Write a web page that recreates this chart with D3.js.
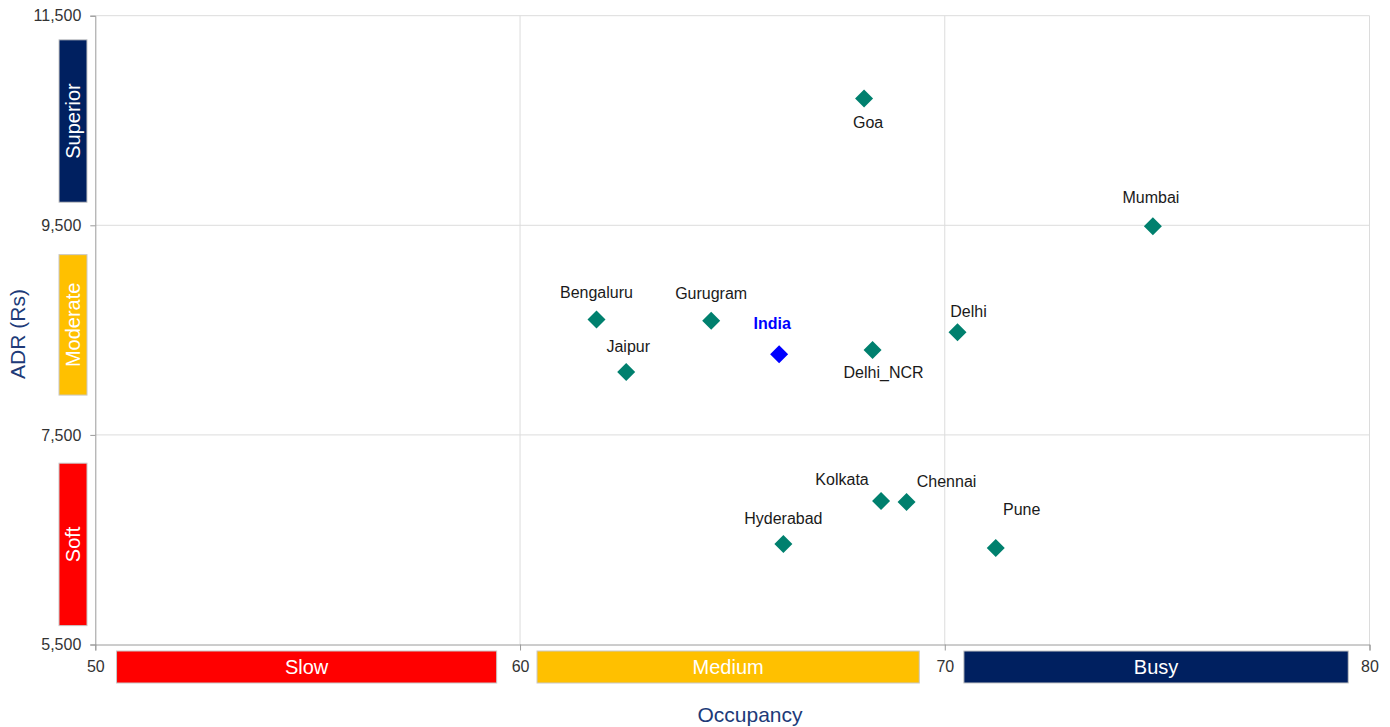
<!DOCTYPE html>
<html>
<head>
<meta charset="utf-8">
<script src="https://cdn.jsdelivr.net/npm/d3@7"></script>
<style>
  html, body { margin: 0; padding: 0; background: #fff; }
  svg { display: block; font-family: "Liberation Sans", Arial, sans-serif; }
</style>
</head>
<body>
<svg id="chart" width="1390" height="727"></svg>
<script>
// Hotel markets: occupancy (%) vs average daily rate (Rs)
const cities    = ["Goa", "Mumbai", "Bengaluru", "Gurugram", "India", "Jaipur", "Delhi", "Delhi_NCR", "Kolkata", "Chennai", "Hyderabad", "Pune"];
const occupancy = [68.1, 74.9, 61.8, 64.5, 66.1, 62.5, 70.3, 68.3, 68.5, 69.1, 66.2, 71.2];
const adr       = [10710, 9490, 8600, 8590, 8270, 8100, 8480, 8310, 6870, 6860, 6460, 6420];

const xTicks = [50, 60, 70, 80];
const yTicks = [5500, 7500, 9500, 11500];

// Occupancy bands along the bottom
const occBandNames = ["Slow", "Medium", "Busy"];
const occBandFrom  = [50.5, 60.4, 70.45];
const occBandTo    = [59.45, 69.4, 79.5];

// Rate bands along the left
const adrBandNames = ["Superior", "Moderate", "Soft"];
const adrBandFrom  = [9720, 7880, 5680];
const adrBandTo    = [11270, 9220, 7230];

const bandColors = { Slow: "#FF0000", Medium: "#FFC000", Busy: "#002060",
                     Superior: "#002060", Moderate: "#FFC000", Soft: "#FF0000" };

// Label placement around each marker [dx, dy]
const labelOffset = {
  Goa: [4, 30], Mumbai: [-2, -23], Bengaluru: [0, -22], Gurugram: [0, -22],
  India: [-7, -25], Jaipur: [2, -20], Delhi: [11, -15], Delhi_NCR: [11, 28],
  Kolkata: [-39, -16], Chennai: [40, -15], Hyderabad: [0, -20], Pune: [26, -33]
};

const svg = d3.select("#chart");
const plotLeft = 95.3, plotRight = 1369.5, plotTop = 15.7, plotBottom = 644.5;

const x = d3.scaleLinear().domain([50, 80]).range([plotLeft, plotRight]);
const y = d3.scaleLinear().domain([5500, 11500]).range([plotBottom, plotTop]);

// grid
const grid = svg.append("g");
grid.selectAll("line.v").data(xTicks.slice(1)).join("line")
  .attr("class", "v")
  .attr("x1", d => x(d)).attr("x2", d => x(d))
  .attr("y1", plotTop).attr("y2", plotBottom)
  .attr("stroke", "#dcdcdc").attr("stroke-width", 1);
grid.selectAll("line.h").data(yTicks.slice(1)).join("line")
  .attr("class", "h")
  .attr("x1", plotLeft).attr("x2", plotRight)
  .attr("y1", d => y(d)).attr("y2", d => y(d))
  .attr("stroke", "#dcdcdc").attr("stroke-width", 1);

// axes
const yAxis = svg.append("g").attr("transform", `translate(${plotLeft},0)`)
  .call(d3.axisLeft(y).tickValues(yTicks).tickFormat(d3.format(",")).tickSize(5).tickPadding(9));
const xAxis = svg.append("g").attr("transform", `translate(0,${plotBottom})`)
  .call(d3.axisBottom(x).tickValues(xTicks).tickSize(6).tickPadding(8));
[xAxis, yAxis].forEach(g => {
  g.select(".domain").attr("stroke", "#9a9a9a");
  g.selectAll(".tick line").attr("stroke", "#9a9a9a");
  g.selectAll(".tick text").attr("fill", "#333").style("font-size", "16px")
    .style("font-family", "Liberation Sans, Arial, sans-serif");
});
xAxis.selectAll(".tick text").attr("dy", "0.85em");

// occupancy bands
const ob = svg.append("g");
occBandNames.forEach((n, i) => {
  const x0 = x(occBandFrom[i]), x1 = x(occBandTo[i]);
  ob.append("rect").attr("x", x0).attr("y", 651).attr("width", x1 - x0).attr("height", 32)
    .attr("fill", bandColors[n]).attr("stroke", "#c8c8c8").attr("stroke-width", 1);
  ob.append("text").attr("x", (x0 + x1) / 2).attr("y", 667).attr("dy", "0.35em")
    .attr("text-anchor", "middle").attr("fill", "#fff").style("font-size", "20px").text(n);
});

// rate bands
const ab = svg.append("g");
adrBandNames.forEach((n, i) => {
  const y0 = y(adrBandTo[i]), y1 = y(adrBandFrom[i]);
  ab.append("rect").attr("x", 59).attr("y", y0).attr("width", 28).attr("height", y1 - y0)
    .attr("fill", bandColors[n]).attr("stroke", "#c8c8c8").attr("stroke-width", 1);
  const cy = (y0 + y1) / 2;
  ab.append("text").attr("transform", `translate(73,${cy}) rotate(-90)`).attr("dy", "0.35em")
    .attr("text-anchor", "middle").attr("fill", "#fff").style("font-size", "20px").text(n);
});

// axis titles
svg.append("text").attr("x", 750).attr("y", 722).attr("text-anchor", "middle")
  .attr("fill", "#203a78").style("font-size", "21px").text("Occupancy");
svg.append("text").attr("transform", "translate(25,334) rotate(-90)").attr("text-anchor", "middle")
  .attr("fill", "#203a78").style("font-size", "21px").text("ADR (Rs)");

// markers
const points = cities.map((c, i) => ({ city: c, occ: occupancy[i], adr: adr[i] }));
const diamond = d3.symbol().type(d3.symbolSquare).size(162);
const pg = svg.append("g");
pg.selectAll("path").data(points).join("path")
  .attr("d", diamond)
  .attr("transform", d => `translate(${x(d.occ)},${y(d.adr)}) rotate(45)`)
  .attr("fill", d => d.city === "India" ? "#0000FF" : "#00806E");

pg.selectAll("text").data(points).join("text")
  .attr("x", d => x(d.occ) + labelOffset[d.city][0])
  .attr("y", d => y(d.adr) + labelOffset[d.city][1])
  .attr("text-anchor", "middle")
  .attr("fill", d => d.city === "India" ? "#0000FF" : "#1a1a1a")
  .style("font-weight", d => d.city === "India" ? "bold" : "normal")
  .style("font-size", "16px")
  .text(d => d.city);
</script>
</body>
</html>
